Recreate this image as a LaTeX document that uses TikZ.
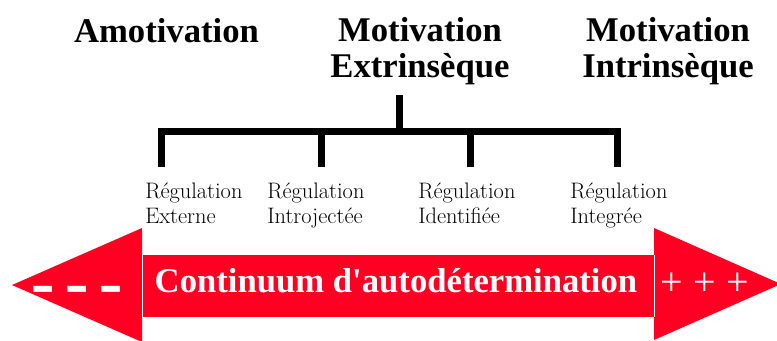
\documentclass[tikz,border=0pt]{standalone}
\usepackage{fontspec}
\newfontfamily\headfont{Liberation Serif}
\definecolor{arrowred}{RGB}{255,0,34}
\tikzset{
  heading/.style={font=\headfont\bfseries\fontsize{26}{27}\selectfont, align=center, inner sep=0pt},
  reglabel/.style={font=\fontsize{16.8}{18.75}\selectfont, align=left, inner sep=0pt, anchor=base west},
  bracketline/.style={line width=5.25pt, line cap=butt},
  redshape/.style={fill=arrowred, draw=none},
  sepline/.style={draw=white, line width=1.1pt},
  bannertext/.style={font=\headfont\bfseries\fontsize{26}{28}\selectfont, text=white, inner sep=0pt},
  signtext/.style={text=white, inner sep=0pt}
}
\begin{document}
\begin{tikzpicture}[x=0.75pt,y=-0.75pt]
\useasboundingbox (0,0) rectangle (777,340);
\begin{scope}
\clip (0,0) rectangle (777,340);
% headings
\node[heading, anchor=base] (amot) at (166.5,42) {Amotivation};
\node[heading, anchor=base] (ext) at (420,77) {Motivation\\Extrinsèque};
\node[heading, anchor=base] (intr) at (668,77) {Motivation\\Intrinsèque};
% bracket
\coordinate (stemtop) at (399,95);
\coordinate (barmid) at (399,131);
\coordinate (d1) at (161,167);
\coordinate (d2) at (321,167);
\coordinate (d3) at (470,167);
\coordinate (d4) at (617,167);
\draw[bracketline] (stemtop) -- (barmid);
\draw[bracketline, line join=miter] (d1) |- (barmid) -| (d4);
\draw[bracketline] (d2) -- (d2 |- barmid);
\draw[bracketline] (d3) -- (d3 |- barmid);
% regulation labels
\node[reglabel] (r1) at (145,223) {Régulation\\Externe};
\node[reglabel] (r2) at (267,223) {Régulation\\Introjectée};
\node[reglabel] (r3) at (418,223) {Régulation\\Identifiée};
\node[reglabel] (r4) at (570,223) {Régulation\\Integrée};
% continuum arrow
\fill[redshape] (142,228) -- (12,285) -- (142,342) -- cycle;
\fill[redshape] (142,255) rectangle (655,317);
\fill[redshape] (654,228) -- (781,284) -- (654,340) -- cycle;
\draw[sepline] (142.6,255) -- (142.6,317);
\draw[sepline] (654.4,255) -- (654.4,317);
\node[bannertext, anchor=base] (cont) at (396,292) {Continuum d'autodétermination};
\node[signtext, font=\headfont\bfseries\itshape\fontsize{27}{28}\selectfont] (minus) at (77.5,298) {\scalebox{1}[2.4]{–}\hspace{12pt}\scalebox{1}[2.4]{–}\hspace{12pt}\scalebox{1}[2.4]{–}};
\node[signtext, font=\headfont\fontsize{30}{32}\selectfont] (plus) at (705,284) {+\hspace{8pt}+\hspace{8pt}+};
\end{scope}
\end{tikzpicture}
\end{document}
